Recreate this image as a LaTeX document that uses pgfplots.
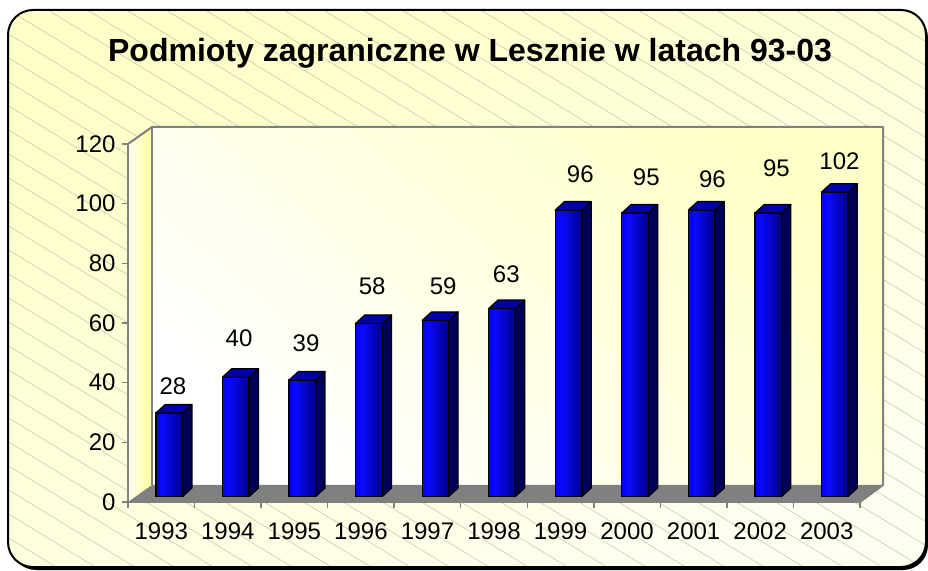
\documentclass[border=0pt]{standalone}
\usepackage{pgfplots}
\pgfplotsset{compat=1.18}
\usepackage{pgfplotstable}
\usepackage{fontspec}
\setmainfont{Liberation Sans}
\definecolor{bfA}{HTML}{0000E8}
\definecolor{bfB}{HTML}{0A0AFF}
\definecolor{bfC}{HTML}{000088}
\definecolor{topcol}{HTML}{0000A8}
\definecolor{sidecol}{HTML}{00005A}
\definecolor{bgY}{HTML}{FFFFC8}
\definecolor{bgW}{HTML}{FFFFF0}
\definecolor{hatch}{HTML}{C8C8B4}
\definecolor{axgray}{HTML}{808080}
\pgfdeclarehorizontalshading{barfront}{100bp}{color(0bp)=(bfA); color(25bp)=(bfA); color(36bp)=(bfB); color(75bp)=(bfC); color(100bp)=(bfC)}
\pgfdeclareplotmark{empty}{}
\pgfplotstableread{
x y lx ly v
0 28 0.056 34.2 28
1 40 1.049 50.3 40
2 39 2.056 48.6 39
3 58 3.049 67.7 58
4 59 4.117 67.7 59
5 63 5.064 71.7 63
6 96 6.177 105.3 96
7 95 7.169 104.2 95
8 96 8.162 103.6 96
9 95 9.124 107.3 95
10 102 10.071 109.6 102
}\datatable
\begin{document}
\begin{tikzpicture}[x=1pt,y=1pt]
\useasboundingbox (0,0) rectangle (928,570);
% outer frame shadow and background
\fill[black] (11,0) [rounded corners=25pt] rectangle (928,557);
\begin{scope}
\clip[rounded corners=25pt] (8,3) rectangle (926,560);
\shade[top color=bgY, bottom color=bgW, shading angle=25] (0,0) rectangle (928,570);
\foreach \k in {-2,...,50} {
  \draw[hatch, line width=0.6pt] (0,{13.2+24*\k}) -- ++(1000,-610);
}
\end{scope}
\draw[black, line width=2pt, rounded corners=25pt] (8,3) rectangle (926,560);
% title
\node[anchor=base, inner sep=0pt] at (470,508) {\fontsize{32}{38}\selectfont\bfseries Podmioty zagraniczne w Lesznie w latach 93-03};
% walls
\shade[top color=bgY, bottom color=white, shading angle=-40] (152,85) rectangle (883,443);
\shade[left color=bgW, right color=bgY!80!yellow] (128,68) -- (128,426) -- (152,443) -- (152,85) -- cycle;
\fill[axgray] (128,68) -- (860,68) -- (883,85) -- (152,85) -- cycle;
\draw[axgray, line width=2pt, line join=round] (128,426) -- (152,443) -- (883,443) -- (883,85) -- (860,68);
\draw[axgray, line width=1.5pt] (152,443) -- (152,85);
% front axis with ticks and labels
\begin{axis}[at={(128pt,68pt)}, anchor=south west, scale only axis,
  width=732pt, height=358pt,
  xmin=-0.5, xmax=10.5, ymin=0, ymax=120,
  axis lines=left, axis line style={-, draw=axgray, line width=2pt},
  ytick={0,20,...,120},
  xtick={-0.5,0.5,...,10.5},
  x tick label as interval,
  xticklabels={1993,1994,1995,1996,1997,1998,1999,2000,2001,2002,2003},
  tick align=outside, major tick length=6pt,
  tick style={draw=axgray, line width=1.5pt},
  ticklabel style={font=\fontsize{24}{28}\selectfont},
  xticklabel style={yshift=-11pt},
  yticklabel style={xshift=-3pt},
  /pgf/number format/assume math mode=true,
  clip=false]
\addplot[draw=none] coordinates {(0,0)};
\end{axis}
% bars
\begin{axis}[at={(136pt,73.5pt)}, anchor=south west, scale only axis,
  width=732pt, height=358pt,
  xmin=-0.5, xmax=10.5, ymin=0, ymax=120,
  axis lines=none, clip=false]
\addplot[ybar, bar width=26.6pt, draw=black, line width=1.3pt, fill=bfB] table[x=x,y=y]{\datatable};
\addplot[scatter, only marks, mark=empty,
  visualization depends on={rawy \as \val},
  scatter/@pre marker code/.code={%
    \pgfmathsetmacro{\hh}{8.5-\val*2.98333}%
    \pgfmathsetmacro{\hb}{-\val*2.98333}%
    \shadedraw[shading=barfront, draw=black, line width=1.3pt, line join=round] (-13.3pt,0pt) rectangle (13.3pt,\hb pt);
    \filldraw[fill=sidecol, draw=black, line width=1.3pt, line join=round] (13.3pt,0pt) -- (22.6pt,8.5pt) -- (22.6pt,\hh pt) -- (13.3pt,\hb pt) -- cycle;
    \filldraw[fill=topcol, draw=black, line width=1.3pt, line join=round] (-13.3pt,0pt) -- (13.3pt,0pt) -- (22.6pt,8.5pt) -- (-4pt,8.5pt) -- cycle;
  },
  scatter/@post marker code/.code={}] table[x=x,y=y]{\datatable};
\addplot[only marks, mark=empty, point meta=explicit symbolic,
  nodes near coords, nodes near coords style={anchor=base, inner sep=0pt, font=\fontsize{24}{28}\selectfont, text=black}]
  table[x=lx,y=ly,meta=v]{\datatable};
\end{axis}
\end{tikzpicture}
\end{document}
